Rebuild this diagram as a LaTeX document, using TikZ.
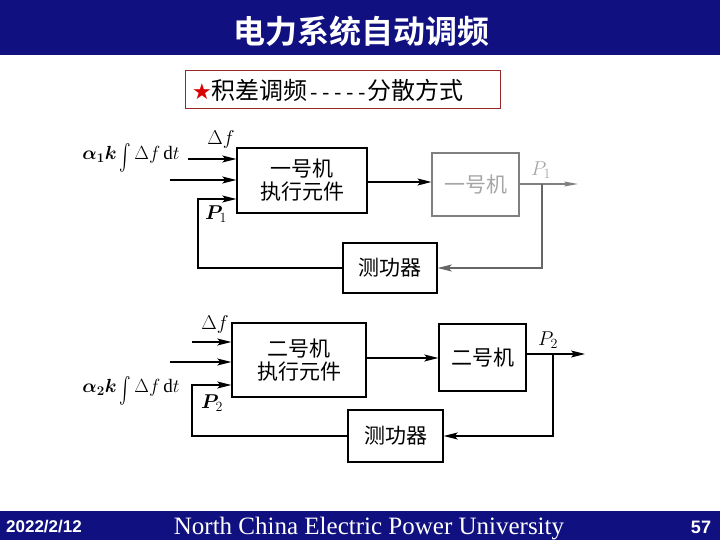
\RequirePackage{fix-cm}
\documentclass[tikz,border=0pt]{standalone}
\usepackage{amsmath}
\usepackage{bm}
\usepackage{fontspec}
\setmainfont{Liberation Serif}
\newfontfamily\cjk{Noto Sans CJK SC}
\newfontfamily\cjkb{Noto Sans CJK SC Bold}
\newfontfamily\dejavu{DejaVu Sans}
\newfontfamily\arialb{Liberation Sans}
\newfontfamily\monof{Liberation Mono}
\usetikzlibrary{arrows.meta}
\definecolor{navy}{RGB}{16,16,128}
\definecolor{boxred}{RGB}{150,40,40}
\newcommand{\tallint}{\raisebox{-0.3em}{\scalebox{1}[1.5]{$\int$}}}
\tikzset{
  blk/.style={draw, line width=1.4pt, align=center, font=\cjk\fontsize{21}{23}\selectfont, inner sep=0pt},
  faint/.style={draw=black!50, text=black!35, line width=1.1pt},
  arr/.style={-{Stealth[length=14pt,width=7pt,inset=3pt]}, line width=1.2pt},
  lbl/.style={font=\fontsize{20}{22}\selectfont, inner sep=0pt}
}
\begin{document}
\begin{tikzpicture}[x=1pt,y=-1pt]
\useasboundingbox (0,0) rectangle (720,540);
% header and footer
\fill[navy] (0,0) rectangle (720,55);
\node[text=white, font=\cjkb\fontsize{32}{35}\selectfont] (title) at (361,31) {电力系统自动调频};
\fill[navy] (0,511) rectangle (720,540);
\node[text=white, font=\arialb\bfseries\fontsize{17}{20}\selectfont] (date) at (44,527) {2022/2/12};
\node[text=white, font=\fontsize{25}{28}\selectfont] (uni) at (369,529) {North China Electric Power University};
\node[text=white, font=\arialb\bfseries\fontsize{18}{20}\selectfont] (page) at (701,527) {57};
% subtitle
\draw[boxred, line width=0.6pt] (185,70) rectangle (500,108);
\node[anchor=west, inner sep=0pt, font=\cjk\fontsize{24}{26}\selectfont] (sub) at (192,90) {{\dejavu\fontsize{22}{24}\selectfont\color{red!85!black}★}积差调频{\monof\fontsize{20}{22}\selectfont -----}分散方式};

% ===== top diagram =====
\node[blk, minimum width=130pt, minimum height=65pt] (e1) at (302,180.5) {一号机\\执行元件};
\node[blk, faint, minimum width=87pt, minimum height=63pt] (g1) at (475.5,184.5) {一号机};
\node[blk, minimum width=94pt, minimum height=50pt] (m1) at (390,268) {测功器};
\draw[arr] (e1.east |- 0,182) -- (g1.west |- 0,182);
\coordinate (o1) at (578,184);
\draw[faint, -{Stealth[length=14pt,width=5pt,inset=3pt]}] (g1.east |- o1) -- (o1);
\coordinate (t1) at (542,184);
\draw[arr, draw=black!60] (t1) |- (m1.east);
\coordinate (c1) at (198,199);
\draw[arr] (m1.west) -| (c1) -- (c1 -| e1.west);
\coordinate (i1a) at (188,159);
\coordinate (i1b) at (170,180);
\draw[arr] (i1a) -- (i1a -| e1.west);
\draw[arr] (i1b) -- (i1b -| e1.west);
\node[lbl] (df1) at (221,140) {$\Delta f$};
\node[lbl] (p1) at (216,214) {$\bm{P}_1$};
\node[lbl, font=\fontsize{19}{22}\selectfont] (int1) at (131,158) {$\bm{\alpha_1 k}$\,\tallint\,$\Delta f\,\mathrm{d}t$};
\node[lbl, text=black!35] (p1o) at (541,170) {$P_1$};

% ===== bottom diagram =====
\node[blk, minimum width=134pt, minimum height=74pt] (e2) at (299,360) {二号机\\执行元件};
\node[blk, minimum width=87pt, minimum height=67pt] (g2) at (482.5,357.5) {二号机};
\node[blk, minimum width=95pt, minimum height=52pt] (m2) at (395.5,436) {测功器};
\draw[arr] (e2.east |- 0,358) -- (g2.west |- 0,358);
\coordinate (o2) at (585,354);
\draw[arr] (g2.east |- o2) -- (o2);
\coordinate (t2) at (553,354);
\draw[arr] (t2) |- (m2.east);
\coordinate (c2) at (192,385);
\draw[arr] (m2.west) -| (c2) -- (c2 -| e2.west);
\coordinate (i2a) at (192,342);
\coordinate (i2b) at (170,362);
\draw[arr] (i2a) -- (i2a -| e2.west);
\draw[arr] (i2b) -- (i2b -| e2.west);
\node[lbl] (df2) at (215,324) {$\Delta f$};
\node[lbl] (p2) at (212,403) {$\bm{P}_2$};
\node[lbl, font=\fontsize{19}{22}\selectfont] (int2) at (131,391) {$\bm{\alpha_2 k}$\,\tallint\,$\Delta f\,\mathrm{d}t$};
\node[lbl] (p2o) at (548,340) {$P_2$};
\end{tikzpicture}
\end{document}
